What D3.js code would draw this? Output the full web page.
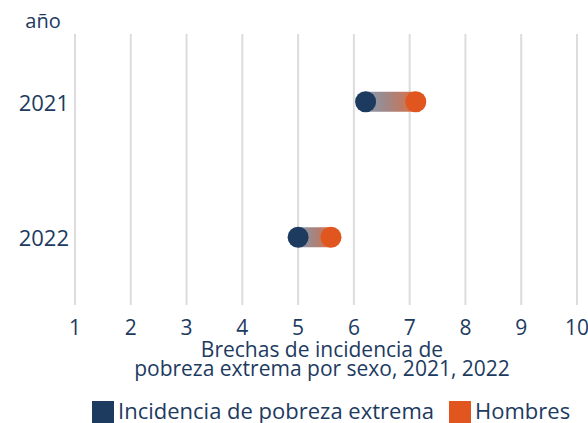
<!DOCTYPE html>
<html lang="es">
<head>
<meta charset="utf-8">
<title>Brechas de incidencia de pobreza extrema</title>
<script src="https://cdn.jsdelivr.net/npm/d3@7/dist/d3.min.js"></script>
<style>
  body { margin: 0; background: #fff; }
  text { font-family: "Open Sans", Lato, sans-serif; fill: #1d3a5f; }
</style>
</head>
<body>
<div id="chart"></div>
<script>
// datos
const years = ["2021", "2022"];
const incidencia = [6.21, 5.0];
const hombres = [7.11, 5.59];
const xTicks = [1, 2, 3, 4, 5, 6, 7, 8, 9, 10];
const seriesNames = ["Incidencia de pobreza extrema", "Hombres"];

const width = 588, height = 423;
const navy = "#1d3a5f", orange = "#e0561e";

const svg = d3.select("#chart").append("svg")
    .attr("width", width)
    .attr("height", height);

const x = d3.scaleLinear().domain([1, 10]).range([75, 577]);
const y = d3.scalePoint().domain(years).range([34, 305]).padding(0.5);

// gradient pour les barres
const grad = svg.append("defs").append("linearGradient")
    .attr("id", "grad");
grad.append("stop").attr("offset", "0%").attr("stop-color", navy).attr("stop-opacity", 0.5);
grad.append("stop").attr("offset", "100%").attr("stop-color", orange).attr("stop-opacity", 0.85);

// grille verticale
svg.append("g").selectAll("line")
    .data(xTicks)
    .enter().append("line")
    .attr("x1", d => x(d)).attr("x2", d => x(d))
    .attr("y1", 34).attr("y2", 305)
    .attr("stroke", "#dcdcdc")
    .attr("stroke-width", 2);

// labels axe x
svg.append("g").selectAll("text")
    .data(xTicks)
    .enter().append("text")
    .attr("x", d => x(d))
    .attr("y", 335)
    .attr("text-anchor", "middle")
    .attr("font-size", 21)
    .text(d => d);

// labels années
svg.append("g").selectAll("text")
    .data(years)
    .enter().append("text")
    .attr("x", 69)
    .attr("y", d => y(d) + 9)
    .attr("text-anchor", "end")
    .attr("font-size", 22)
    .text(d => d);

svg.append("text")
    .attr("x", 43).attr("y", 28)
    .attr("text-anchor", "middle")
    .attr("font-size", 20)
    .text("año");

// barres dégradées + points
const rows = years.map((yr, i) => ({ year: yr, a: incidencia[i], b: hombres[i] }));

svg.append("g").selectAll("rect")
    .data(rows)
    .enter().append("rect")
    .attr("x", d => x(d.a))
    .attr("width", d => x(d.b) - x(d.a))
    .attr("y", d => y(d.year) - 10)
    .attr("height", 20)
    .attr("fill", "url(#grad)");

svg.append("g").selectAll("circle")
    .data(rows)
    .enter().append("circle")
    .attr("cx", d => x(d.a))
    .attr("cy", d => y(d.year))
    .attr("r", 10.5)
    .attr("fill", navy);

svg.append("g").selectAll("circle")
    .data(rows)
    .enter().append("circle")
    .attr("cx", d => x(d.b))
    .attr("cy", d => y(d.year))
    .attr("r", 10.5)
    .attr("fill", orange);

// titre de l'axe
const title = svg.append("text")
    .attr("x", 322)
    .attr("text-anchor", "middle")
    .attr("font-size", 21);
title.append("tspan").attr("x", 322).attr("y", 357).text("Brechas de incidencia de");
title.append("tspan").attr("x", 322).attr("y", 376).text("pobreza extrema por sexo, 2021, 2022");

// légende
const legend = svg.append("g");
const legX = [92, 449];
const legColors = [navy, orange];
seriesNames.forEach((name, i) => {
    legend.append("rect")
        .attr("x", legX[i]).attr("y", 401)
        .attr("width", 22).attr("height", 22)
        .attr("fill", legColors[i]);
    legend.append("text")
        .attr("x", legX[i] + 26).attr("y", 419)
        .attr("font-size", 22)
        .text(name);
});
</script>
</body>
</html>
